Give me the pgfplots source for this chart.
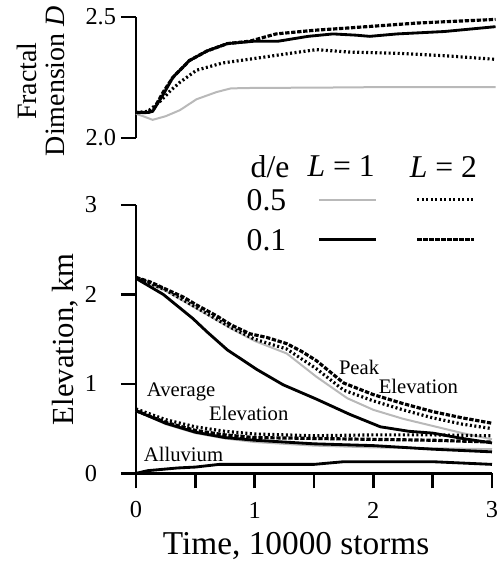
\documentclass[border=0pt]{standalone}
\usepackage{fontspec}
\setmainfont{Liberation Serif}
\usepackage{pgfplots}
\pgfplotsset{compat=1.18}

\tikzset{
  sgray/.style={gray!55, line width=0.6pt},
  sdot/.style={black, line width=0.95pt, dash pattern=on 0.6pt off 0.75pt},
  ssolid/.style={black, line width=0.85pt},
  sdash/.style={black, line width=0.95pt, dash pattern=on 1.3pt off 0.5pt},
  tl/.style={inner sep=0pt, font=\fontsize{7.3}{7.3}\selectfont},
}
\pgfplotsset{
  panel/.style={
    scale only axis, width=106.8pt,
    xmin=0, xmax=3,
    tick align=outside, major tick length=4.5pt,
    every tick/.style={black, line width=0.8pt},
    axis line style={line width=0.8pt},
    xticklabels={}, yticklabels={},
    clip=false,
  },
}
\newcommand{\fs}[1]{\fontsize{#1}{#1}\selectfont}

\begin{document}
\begin{tikzpicture}
% lower panel: elevation
\begin{axis}[panel,
    name=bot, height=80.5pt,
    ymin=0, ymax=3,
    axis lines*=left,
    xtick={0,0.5,...,3},
    ytick={0,1,2,3},
    xlabel={Time, 10000 storms},
    ylabel={Elevation, km},
    xlabel style={font=\fs{10}, at={(axis description cs:0.45,0)}, anchor=center, yshift=-21.9pt},
    ylabel style={font=\fs{9.2}, at={(axis description cs:-0.2,0.5)}, anchor=center},
]
% peak elevation
\addplot[sgray] coordinates {(0,2.18) (0.25,2.04) (0.5,1.85) (0.8,1.62) (1.0,1.48) (1.27,1.34) (1.52,1.08) (1.78,0.84) (2.0,0.71) (2.25,0.61) (2.5,0.53) (2.75,0.45) (3.0,0.38)};
\addplot[sdot] coordinates {(0,2.19) (0.25,2.05) (0.5,1.86) (0.8,1.63) (1.0,1.50) (1.27,1.39) (1.52,1.17) (1.75,0.93) (2.0,0.81) (2.25,0.71) (2.5,0.62) (2.75,0.55) (3.0,0.50)};
\addplot[ssolid] coordinates {(0,2.18) (0.23,2.0) (0.48,1.73) (0.6,1.58) (0.77,1.38) (1.02,1.16) (1.24,0.99) (1.52,0.83) (1.8,0.66) (2.06,0.52) (2.3,0.47) (2.5,0.45) (2.75,0.39) (3.0,0.34)};
\addplot[sdash] coordinates {(0,2.19) (0.12,2.14) (0.25,2.06) (0.4,1.97) (0.5,1.89) (0.68,1.76) (0.8,1.66) (0.96,1.56) (1.1,1.52) (1.27,1.45) (1.4,1.36) (1.52,1.26) (1.75,1.01) (2.0,0.88) (2.25,0.78) (2.5,0.69) (2.75,0.62) (3.0,0.56)};
% average elevation
\addplot[sgray] coordinates {(0,0.70) (0.25,0.55) (0.5,0.45) (0.75,0.39) (1,0.35) (1.5,0.31) (2,0.29) (2.5,0.28) (3,0.27)};
\addplot[sdot] coordinates {(0,0.72) (0.25,0.60) (0.5,0.52) (0.75,0.47) (1,0.44) (1.5,0.42) (2,0.43) (2.5,0.43) (3,0.42)};
\addplot[ssolid] coordinates {(0,0.70) (0.25,0.56) (0.5,0.46) (0.75,0.40) (1,0.37) (1.5,0.33) (2,0.31) (2.5,0.27) (3,0.24)};
\addplot[sdash] coordinates {(0,0.70) (0.25,0.57) (0.5,0.48) (0.75,0.43) (1,0.40) (1.5,0.39) (2,0.38) (2.5,0.37) (3,0.35)};
% alluvium
\addplot[ssolid] coordinates {(0,0) (0.1,0.03) (0.35,0.06) (0.5,0.07) (0.7,0.10) (1.5,0.10) (1.75,0.13) (2.5,0.13) (3,0.10)};

% tick labels
\node[tl, anchor=east, xshift=-11.5pt] at (axis cs:0,0) {0};
\node[tl, anchor=east, xshift=-11.5pt] at (axis cs:0,1) {1};
\node[tl, anchor=east, xshift=-11.5pt] at (axis cs:0,2) {2};
\node[tl, anchor=east, xshift=-11.5pt] at (axis cs:0,3) {3};
\node[tl, yshift=-11pt] at (axis cs:0,0) {0};
\node[tl, yshift=-11pt] at (axis cs:1,0) {1};
\node[tl, yshift=-11pt] at (axis cs:2,0) {2};
\node[tl, yshift=-11pt] at (axis cs:3,0) {3};

\node[font=\fs{6.2}] at (axis cs:1.88,1.18) {Peak};
\node[font=\fs{6.2}] at (axis cs:2.38,0.97) {Elevation};
\node[font=\fs{6.2}] at (axis cs:0.38,0.91) {Average};
\node[font=\fs{6.2}] at (axis cs:0.95,0.67) {Elevation};
\node[font=\fs{6.2}] at (axis cs:0.40,0.21) {Alluvium};

% legend
\node[font=\fs{9.5}] at (axis cs:1.13,3.43) {d/e};
\node[font=\fs{9.5}] at (axis cs:1.73,3.43) {\textit{L} = 1};
\node[font=\fs{9.5}] at (axis cs:2.59,3.43) {\textit{L} = 2};
\node[font=\fs{9.5}] at (axis cs:1.10,3.05) {0.5};
\node[font=\fs{9.5}] at (axis cs:1.10,2.61) {0.1};
\node at (axis cs:1.78,3.06) {\tikz\draw[sgray] (0,0) -- (17pt,0);};
\node at (axis cs:2.61,3.06) {\tikz\draw[sdot] (0,0) -- (17pt,0);};
\node at (axis cs:1.78,2.61) {\tikz\draw[ssolid] (0,0) -- (17pt,0);};
\node at (axis cs:2.61,2.61) {\tikz\draw[sdash] (0,0) -- (17pt,0);};
\end{axis}

% upper panel: fractal dimension
\begin{axis}[panel,
    at={(0pt,100.6pt)}, anchor=south west,
    height=36.3pt,
    ymin=2.0, ymax=2.5,
    axis x line=none, axis y line*=left,
    ytick={2.0,2.5},
    ylabel={Fractal\\Dimension \textit{D}},
    ylabel style={font=\fs{8.4}, align=center, at={(axis description cs:-0.267,0.47)}, anchor=center},
]
\addplot[sgray] coordinates {(0,2.10) (0.06,2.09) (0.14,2.075) (0.25,2.09) (0.37,2.115) (0.51,2.16) (0.68,2.19) (0.8,2.205) (1,2.207) (1.5,2.208) (2,2.21) (2.5,2.21) (3.03,2.21)};
\addplot[sdot] coordinates {(0,2.105) (0.1,2.11) (0.2,2.15) (0.3,2.2) (0.37,2.23) (0.51,2.28) (0.73,2.31) (1.02,2.33) (1.3,2.35) (1.52,2.365) (1.8,2.355) (2.2,2.35) (2.6,2.34) (3.03,2.325)};
\addplot[ssolid] coordinates {(0,2.105) (0.1,2.105) (0.14,2.11) (0.23,2.18) (0.31,2.25) (0.45,2.32) (0.6,2.36) (0.77,2.39) (1.0,2.40) (1.2,2.40) (1.45,2.42) (1.66,2.43) (1.85,2.425) (1.97,2.42) (2.2,2.43) (2.6,2.44) (3.03,2.46)};
\addplot[sdash] coordinates {(0,2.105) (0.1,2.105) (0.15,2.12) (0.23,2.19) (0.31,2.25) (0.45,2.32) (0.6,2.36) (0.77,2.39) (0.96,2.40) (1.18,2.43) (1.5,2.445) (1.8,2.455) (2.37,2.475) (3.03,2.49)};
\node[tl, anchor=east, xshift=-5.8pt] at (axis cs:0,2.0) {2.0};
\node[tl, anchor=east, xshift=-5.8pt] at (axis cs:0,2.5) {2.5};
\end{axis}
\pgfresetboundingbox
\useasboundingbox (-40.8pt,-29pt) rectangle (109.2pt,142pt);
\end{tikzpicture}
\end{document}
